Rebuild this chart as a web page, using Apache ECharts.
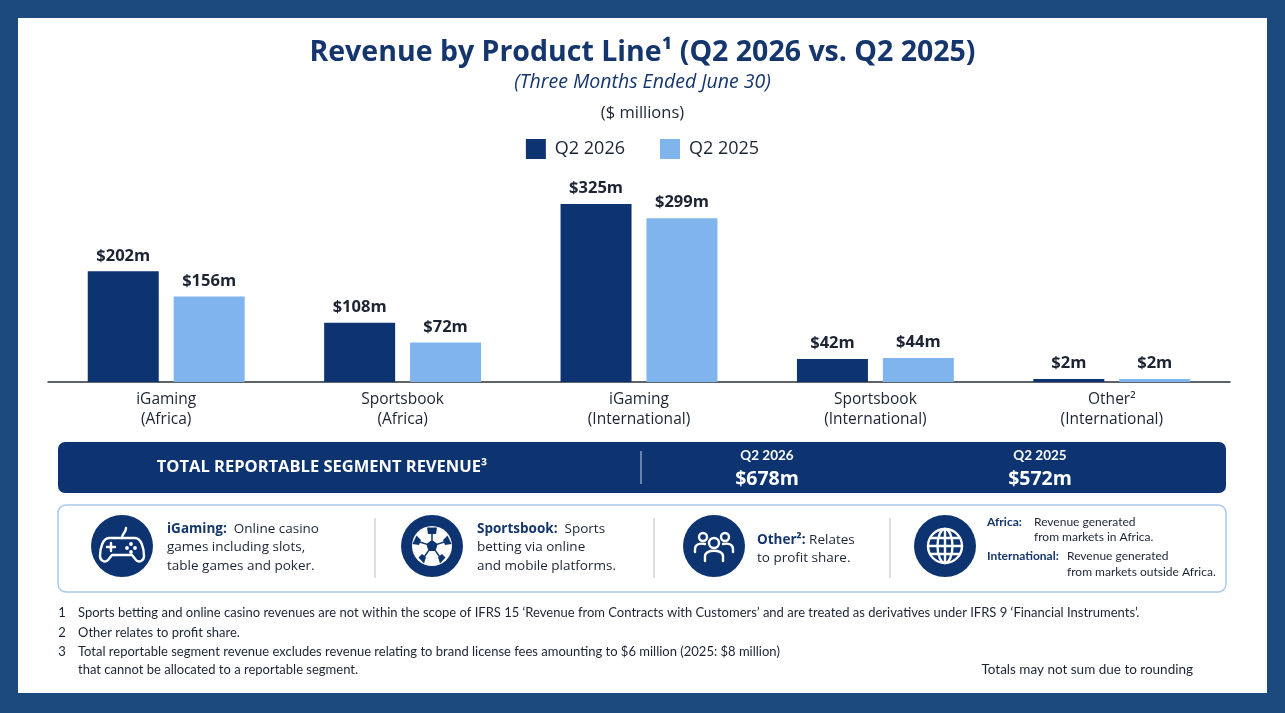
<!DOCTYPE html>
<html>
<head>
<meta charset="utf-8">
<script src="https://cdn.jsdelivr.net/npm/echarts@6/dist/echarts.min.js"></script>
<style>
  html,body{margin:0;padding:0;background:#1d4a7e;width:1285px;height:713px;overflow:hidden;}
  #card{position:absolute;left:18px;top:18px;width:1249px;height:675px;background:#ffffff;}
  #chart{position:absolute;left:0;top:0;width:1285px;height:713px;}
</style>
</head>
<body>
<div id="card"></div>
<div id="chart"></div>
<script>
const categories = ['iGaming\n(Africa)', 'Sportsbook\n(Africa)', 'iGaming\n(International)', 'Sportsbook\n(International)', 'Other²\n(International)'];
const seriesNames = ['Q2 2026', 'Q2 2025'];
const q2026 = [202, 108, 325, 42, 2];
const q2025 = [156, 72, 299, 44, 2];
const totalLabel = 'TOTAL REPORTABLE SEGMENT REVENUE³';
const totalPeriods = ['Q2 2026', 'Q2 2025'];
const totals = [678, 572];
const footnotes = [
  ['1', 'Sports betting and online casino revenues are not within the scope of IFRS 15 ‘Revenue from Contracts with Customers’ and are treated as derivatives under IFRS 9 ‘Financial Instruments’.'],
  ['2', 'Other relates to profit share.'],
  ['3', 'Total reportable segment revenue excludes revenue relating to brand license fees amounting to $6 million (2025: $8 million)'],
  ['', 'that cannot be allocated to a reportable segment.']
];
const roundingNote = 'Totals may not sum due to rounding';

const NAVY = '#0d3471';
const LIGHT = '#80b4ec';
const TXT = '#1c2333';
const TITLE = '#15366c';
const FONT = '"Open Sans", Lato, sans-serif';
const FONT2 = 'Lato, "Open Sans", sans-serif';

const chart = echarts.init(document.getElementById('chart'));

function txt(x, y, text, font, fill, align) {
  return { type: 'text', x: x, y: y,
    style: { text: text, font: font, fill: fill, textAlign: align || 'left', textVerticalAlign: 'middle' } };
}
function rtxt(x, y, text) {
  return { type: 'text', x: x, y: y, style: { text: text, textVerticalAlign: 'middle',
    rich: { b: { fontFamily: FONT, fontWeight: 'bold', fontSize: 13.5, fill: TITLE },
            n: { fontFamily: FONT, fontSize: 13.5, fill: TXT } } } };
}

function svgIcon(inner) {
  const s = '<svg xmlns="http://www.w3.org/2000/svg" width="62" height="62" viewBox="-31 -31 62 62">' +
    '<circle cx="0" cy="0" r="31" fill="' + NAVY + '"/>' +
    '<g fill="none" stroke="#fff" stroke-width="2.4" stroke-linecap="round" stroke-linejoin="round">' + inner + '</g></svg>';
  return 'data:image/svg+xml;charset=utf-8,' + encodeURIComponent(s);
}
const iconGamepad = svgIcon(
  '<path d="M-13 -8 L13 -8 C19 -8 22 2 22 10 C22 15 17 17 14 14 L10 9 L-10 9 L-14 14 C-17 17 -22 15 -22 10 C-22 2 -19 -8 -13 -8 Z"/>' +
  '<path d="M-15 1 L-7 1 M-11 -3 L-11 5"/><path d="M0 -8 C0 -13 4 -13 4 -18"/>' +
  '<g fill="#fff" stroke="none"><circle cx="9" cy="-2" r="1.9"/><circle cx="13" cy="2" r="1.9"/><circle cx="9" cy="6" r="1.9"/><circle cx="5" cy="2" r="1.9"/></g>');
const iconBall = svgIcon(
  '<circle cx="0" cy="0" r="20" fill="#fff" stroke="none"/>' +
  '<path d="M0 -6 L5.7 -1.9 L3.5 4.9 L-3.5 4.9 L-5.7 -1.9 Z" fill="' + NAVY + '" stroke="none"/>' +
  '<path d="M0 -6 L0 -12 M5.7 -1.9 L11.4 -3.7 M3.5 4.9 L7 9.7 M-3.5 4.9 L-7 9.7 M-5.7 -1.9 L-11.4 -3.7" stroke="' + NAVY + '" stroke-width="1.5"/>' +
  '<path d="M-5 -18.5 L5 -18.5 L4 -12 L-4 -12 Z M15.5 -10.5 L19.5 -2 L13 -1 L11 -6 Z M13.5 11.5 L8 17.5 L6 11 L10 8 Z M-13.5 11.5 L-8 17.5 L-6 11 L-10 8 Z M-15.5 -10.5 L-19.5 -2 L-13 -1 L-11 -6 Z" fill="' + NAVY + '" stroke="none"/>');
const iconPeople = svgIcon(
  '<circle cx="0" cy="-3" r="5"/><path d="M-9 15 L-9 10 C-9 3 9 3 9 10 L9 15"/>' +
  '<circle cx="-11" cy="-9" r="4"/><path d="M-19 6 L-19 3 C-19 -2 -14 -3 -9 -2"/>' +
  '<circle cx="11" cy="-9" r="4"/><path d="M19 6 L19 3 C19 -2 14 -3 9 -2"/>');
const iconGlobe = svgIcon(
  '<circle cx="0" cy="0" r="17"/><ellipse cx="0" cy="0" rx="7.5" ry="17"/>' +
  '<path d="M-17 0 L17 0 M0 -17 L0 17 M-14.5 -8 L14.5 -8 M-14.5 8 L14.5 8"/>');

function icon(cx, cy, uri) {
  return { type: 'image', x: cx - 31, y: cy - 31, style: { image: uri, width: 62, height: 62 } };
}

const graphics = [
  { type: 'rect', shape: { x: 58, y: 442, width: 1168, height: 51, r: 7 }, style: { fill: NAVY } },
  txt(322, 467, totalLabel, 'bold 16.5px ' + FONT, '#ffffff', 'center'),
  { type: 'line', shape: { x1: 641, y1: 451, x2: 641, y2: 484 }, style: { stroke: '#c9d3e3', lineWidth: 1 } },
  txt(767, 456, totalPeriods[0], 'bold 13.5px ' + FONT2, '#ffffff', 'center'),
  txt(767, 479, '$' + totals[0] + 'm', 'bold 19.5px ' + FONT, '#ffffff', 'center'),
  txt(1040, 456, totalPeriods[1], 'bold 13.5px ' + FONT2, '#ffffff', 'center'),
  txt(1040, 479, '$' + totals[1] + 'm', 'bold 19.5px ' + FONT, '#ffffff', 'center'),
  { type: 'rect', shape: { x: 58, y: 505, width: 1168, height: 87, r: 8 }, style: { fill: '#ffffff', stroke: '#a9c8ec', lineWidth: 1.5 } },
  { type: 'line', shape: { x1: 375, y1: 518, x2: 375, y2: 578 }, style: { stroke: '#b9bec6', lineWidth: 1 } },
  { type: 'line', shape: { x1: 654, y1: 518, x2: 654, y2: 578 }, style: { stroke: '#b9bec6', lineWidth: 1 } },
  { type: 'line', shape: { x1: 890, y1: 518, x2: 890, y2: 578 }, style: { stroke: '#b9bec6', lineWidth: 1 } },
  icon(122, 546, iconGamepad), icon(432, 546, iconBall), icon(714, 546, iconPeople), icon(945, 546, iconGlobe),
  rtxt(167, 529, '{b|iGaming:}{n|  Online casino}'),
  rtxt(167, 547, '{n|games including slots,}'),
  rtxt(167, 566, '{n|table games and poker.}'),
  rtxt(477, 529, '{b|Sportsbook:}{n|  Sports}'),
  rtxt(477, 547, '{n|betting via online}'),
  rtxt(477, 566, '{n|and mobile platforms.}'),
  rtxt(757, 540, '{b|Other²:}{n| Relates}'),
  rtxt(757, 558, '{n|to profit share.}'),
  txt(987, 522, 'Africa:', 'bold 12px ' + FONT2, TITLE, 'left'),
  txt(1034, 522, 'Revenue generated', '12px ' + FONT2, TXT, 'left'),
  txt(1034, 537, 'from markets in Africa.', '12px ' + FONT2, TXT, 'left'),
  txt(987, 556, 'International:', 'bold 12px ' + FONT2, TITLE, 'left'),
  txt(1067, 556, 'Revenue generated', '12px ' + FONT2, TXT, 'left'),
  txt(1067, 572, 'from markets outside Africa.', '12px ' + FONT2, TXT, 'left')
];

const fnY = [613, 633, 652, 670];
footnotes.forEach(function (f, i) {
  if (f[0]) graphics.push(txt(62, fnY[i], f[0], '13px ' + FONT2, TXT, 'center'));
  graphics.push(txt(78, fnY[i], f[1], '13px ' + FONT2, TXT, 'left'));
});
graphics.push(txt(1193, 670, roundingNote, '13.5px ' + FONT2, TXT, 'right'));

const labelOpt = { show: true, position: 'top', distance: 7,
  formatter: function (p) { return '$' + p.value + 'm'; },
  fontSize: 16.5, fontWeight: 'bold', color: TXT, fontFamily: FONT };

chart.setOption({
  backgroundColor: 'transparent',
  animation: false,
  textStyle: { fontFamily: FONT },
  title: [
    { text: 'Revenue by Product Line¹ (Q2 2026 vs. Q2 2025)', left: 'center', top: 33,
      textStyle: { fontSize: 28.5, fontWeight: 'bold', color: TITLE, fontFamily: FONT } },
    { text: '(Three Months Ended June 30)', left: 'center', top: 67,
      textStyle: { fontSize: 19.5, fontStyle: 'italic', fontWeight: 'normal', color: TITLE, fontFamily: FONT } },
    { text: '($ millions)', left: 'center', top: 100,
      textStyle: { fontSize: 16.5, fontWeight: 'normal', color: TXT, fontFamily: FONT } }
  ],
  legend: {
    data: seriesNames, top: 134, left: 'center',
    itemWidth: 20, itemHeight: 20, itemGap: 35, icon: 'rect',
    textStyle: { fontSize: 18, color: TXT, fontFamily: FONT, padding: [0, 0, 0, 4] }
  },
  grid: { left: 48, right: 55, top: 204, bottom: 331 },
  xAxis: {
    type: 'category', data: categories,
    axisLine: { lineStyle: { color: '#2a2f3a', width: 1.5 } },
    axisTick: { show: false },
    axisLabel: { fontSize: 15.5, lineHeight: 20, color: TXT, margin: 8, fontFamily: FONT }
  },
  yAxis: { type: 'value', min: 0, max: 325, show: false, splitLine: { show: false } },
  series: [
    { name: seriesNames[0], type: 'bar', data: q2026, barWidth: 71, barGap: '21%', barMinHeight: 3,
      itemStyle: { color: NAVY }, label: labelOpt },
    { name: seriesNames[1], type: 'bar', data: q2025, barWidth: 71, barGap: '21%', barMinHeight: 3,
      itemStyle: { color: LIGHT }, label: labelOpt }
  ],
  graphic: { elements: graphics }
});
</script>
</body>
</html>
